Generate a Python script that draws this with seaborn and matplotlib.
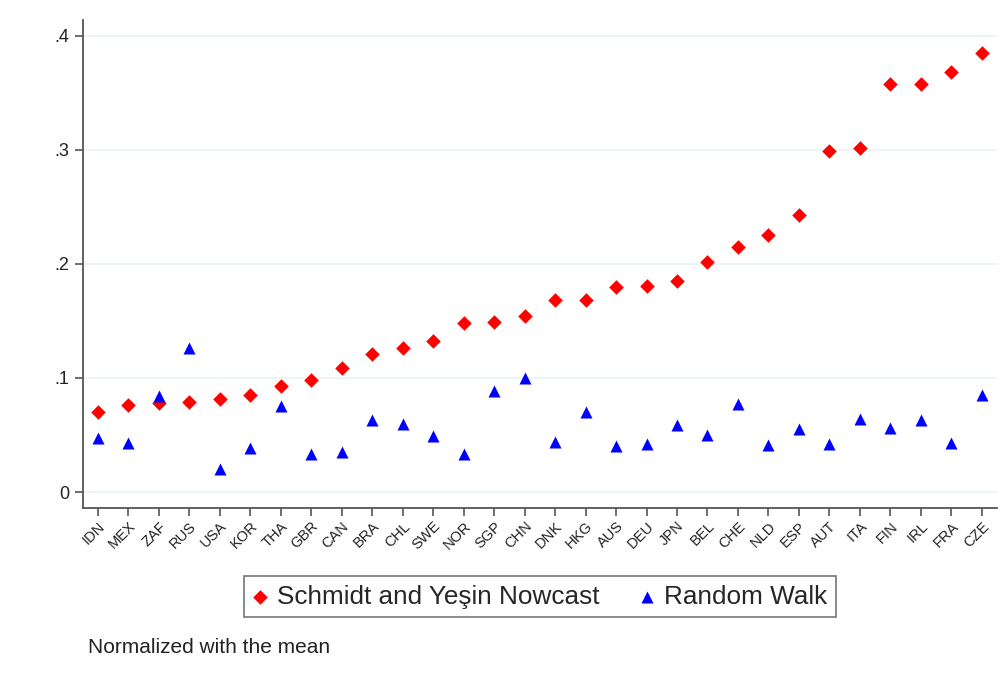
import pandas as pd
import seaborn as sns
import matplotlib.pyplot as plt

# countries ordered by nowcast error
countries = ["IDN", "MEX", "ZAF", "RUS", "USA", "KOR", "THA", "GBR", "CAN", "BRA",
             "CHL", "SWE", "NOR", "SGP", "CHN", "DNK", "HKG", "AUS", "DEU", "JPN",
             "BEL", "CHE", "NLD", "ESP", "AUT", "ITA", "FIN", "IRL", "FRA", "CZE"]

nowcast = [0.070, 0.0765, 0.078, 0.079, 0.082, 0.085, 0.093, 0.098, 0.109, 0.121,
           0.126, 0.132, 0.148, 0.149, 0.154, 0.168, 0.168, 0.180, 0.181, 0.185,
           0.202, 0.215, 0.225, 0.243, 0.299, 0.302, 0.358, 0.358, 0.368, 0.385]

random_walk = [0.047, 0.043, 0.084, 0.126, 0.020, 0.039, 0.075, 0.033, 0.035, 0.063,
               0.060, 0.049, 0.033, 0.089, 0.100, 0.044, 0.070, 0.040, 0.042, 0.059,
               0.050, 0.077, 0.041, 0.055, 0.042, 0.064, 0.056, 0.063, 0.043, 0.085]

y_ticks = [0, 0.1, 0.2, 0.3, 0.4]
y_tick_labels = ["0", ".1", ".2", ".3", ".4"]


def plot_errors():
    df = pd.DataFrame({"country": countries, "nowcast": nowcast, "rw": random_walk})

    sns.set_style("white")
    plt.rcParams['font.family'] = ['Liberation Sans', 'DejaVu Sans']

    fig = plt.figure(figsize=(10.07, 6.81), dpi=100)
    ax = fig.add_axes([0.0821, 0.254, 0.908, 0.717])

    sns.scatterplot(data=df, x="country", y="nowcast", marker="D", color="#ff0000",
                    s=55, linewidth=0, label="Schmidt and Yeşin Nowcast", ax=ax, zorder=3)
    sns.scatterplot(data=df, x="country", y="rw", marker="^", color="#0000ff",
                    s=75, linewidth=0, label="Random Walk", ax=ax, zorder=3)

    ax.set_xlim(-0.5, len(countries) - 0.5)
    ax.set_ylim(-0.014, 0.414)
    ax.set_yticks(y_ticks)
    ax.set_yticklabels(y_tick_labels, fontsize=13, color="#222222")
    ax.set_xticks(range(len(countries)))
    ax.set_xticklabels(countries, rotation=45, ha="right", rotation_mode="anchor",
                       fontsize=10.5, color="#222222")
    ax.set_xlabel("")
    ax.set_ylabel("")

    ax.grid(axis="y", color="#eaf2f3", linewidth=1.2)
    ax.set_axisbelow(True)
    for side in ["top", "right"]:
        ax.spines[side].set_visible(False)
    for side in ["left", "bottom"]:
        ax.spines[side].set_color("#555555")
        ax.spines[side].set_linewidth(1.3)
    ax.tick_params(axis="both", direction="out", length=6, width=1.2, color="#555555",
                   bottom=True, left=True)
    ax.tick_params(axis="x", pad=2)

    leg = ax.legend(loc="upper center", bbox_to_anchor=(0.5, -0.139), ncol=2,
                    fontsize=18.8, frameon=True, fancybox=False, markerscale=1.0,
                    handletextpad=0.36, columnspacing=1.5, borderpad=0.33,
                    handlelength=0.6, borderaxespad=0)
    leg.get_frame().set_edgecolor("#555555")
    leg.get_frame().set_linewidth(1.2)

    fig.text(0.087, 0.041, "Normalized with the mean", fontsize=15, color="#222222")

    fig.savefig("out.png", dpi=100)


if __name__ == "__main__":
    plot_errors()
